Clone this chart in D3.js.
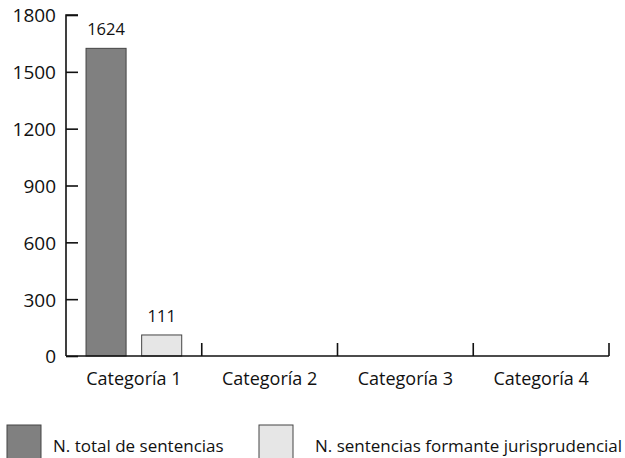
<!DOCTYPE html>
<html><head><meta charset="utf-8">
<script src="https://cdn.jsdelivr.net/npm/d3@7"></script>
<style>body{margin:0;background:#fff}svg{display:block}text{font-family:"Open Sans",sans-serif;fill:#111}</style>
</head><body><svg id="c" width="625" height="458"></svg>
<script>
const categories = ["Categoría 1","Categoría 2","Categoría 3","Categoría 4"];
const seriesNames = ["N. total de sentencias","N. sentencias formante jurisprudencial"];
const totalSentencias = [1624, null, null, null];
const formanteJuris = [111, null, null, null];
const yTicks = [0,300,600,900,1200,1500,1800];
const colors = ["#808080","#e6e6e6"];

const svg = d3.select("#c");
const x0 = d3.scaleBand().domain(categories).range([66,609]).padding(0);
const y = d3.scaleLinear().domain([0,1800]).range([356,15]);
const x1 = d3.scaleBand().domain([0,1]).range([0,x0.bandwidth()]).paddingInner(0.28).paddingOuter(0.36);

const series = [totalSentencias, formanteJuris];
const g = svg.append("g");
series.forEach((vals,si)=>{
  categories.forEach((c,ci)=>{
    const v = vals[ci];
    if(v==null) return;
    const bx = x0(c)+x1(si);
    g.append("rect").attr("x",bx).attr("y",y(v)).attr("width",x1.bandwidth()).attr("height",y(0)-y(v))
      .attr("fill",colors[si]).attr("stroke","#444").attr("stroke-width",1);
    g.append("text").attr("x",bx+x1.bandwidth()/2).attr("y",y(v)-13).attr("text-anchor","middle")
      .style("font-size","16.5px").style("fill","#111").text(v);
  });
});

// y axis
const ya = svg.append("g").attr("transform","translate(66,0)")
  .call(d3.axisRight(y).tickValues(yTicks).tickSize(12).tickFormat(d3.format("d")));
ya.select(".domain").attr("d",`M12,${y(1800)}H0V${y(0)}`).attr("stroke","#111").attr("stroke-width",1.6);
ya.selectAll(".tick line").attr("stroke","#111").attr("stroke-width",1.6);
ya.selectAll(".tick text").attr("x",-10).attr("text-anchor","end").attr("dy","0.36em").style("font-size","19px").style("font-family","'Open Sans',sans-serif").style("fill","#111");

// x axis
const xa = svg.append("g").attr("transform",`translate(0,${y(0)})`)
  .call(d3.axisBottom(x0).tickSize(0));
xa.select(".domain").attr("d",`M66,0H609`).attr("stroke","#111").attr("stroke-width",1.6);
xa.selectAll(".tick text").attr("y",29).attr("dy",0).style("font-size","18px").style("font-family","'Open Sans',sans-serif").style("fill","#111");
categories.forEach(c=>{
  const bx = x0(c)+x0.bandwidth();
  xa.append("line").attr("x1",bx).attr("x2",bx).attr("y1",0).attr("y2",-13).attr("stroke","#111").attr("stroke-width",1.6);
});

// legend
const leg = [{x:7,tx:53},{x:259,tx:315}];
seriesNames.forEach((n,i)=>{
  svg.append("rect").attr("x",leg[i].x).attr("y",425).attr("width",34).attr("height",36)
    .attr("fill",colors[i]).attr("stroke","#444").attr("stroke-width",1);
  svg.append("text").attr("x",leg[i].tx).attr("y",452).style("font-size","17px").style("fill","#111").text(n);
});
</script></body></html>
